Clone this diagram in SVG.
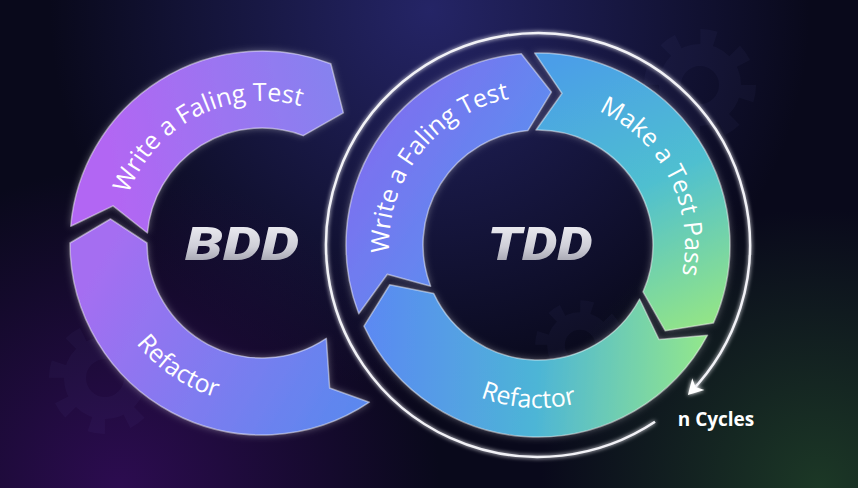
<svg xmlns="http://www.w3.org/2000/svg" width="858" height="488" viewBox="0 0 858 488">
<style>
.seg{stroke:rgba(255,255,255,0.45);stroke-width:1.5;stroke-linejoin:round;filter:url(#glow)}
.lbl{font-family:"Open Sans","Noto Sans",sans-serif;font-weight:500;font-size:25px;fill:#ffffff}
.big{font-family:Roboto,"Liberation Sans",sans-serif;font-weight:900;font-style:italic;font-size:46px;fill:url(#silver)}
.gear{color:#9aa0ff;opacity:0.035}
</style>
<defs>
<radialGradient id="bgBlue" cx="430" cy="10" r="380" gradientUnits="userSpaceOnUse">
<stop offset="0" stop-color="#26266a" stop-opacity="0.95"/>
<stop offset="1" stop-color="#26266a" stop-opacity="0"/>
</radialGradient>
<radialGradient id="bgPurple" cx="120" cy="488" r="320" gradientUnits="userSpaceOnUse">
<stop offset="0" stop-color="#2c0c50" stop-opacity="1"/>
<stop offset="1" stop-color="#2c0c50" stop-opacity="0"/>
</radialGradient>
<radialGradient id="bgGreen" cx="820" cy="488" r="280" gradientUnits="userSpaceOnUse">
<stop offset="0" stop-color="#1c3826" stop-opacity="1"/>
<stop offset="1" stop-color="#1c3826" stop-opacity="0"/>
</radialGradient>
<linearGradient id="gBddW" x1="110" y1="150" x2="340" y2="110" gradientUnits="userSpaceOnUse">
<stop offset="0" stop-color="#b266f3"/><stop offset="1" stop-color="#8682ef"/>
</linearGradient>
<linearGradient id="gBddR" x1="100" y1="260" x2="360" y2="410" gradientUnits="userSpaceOnUse">
<stop offset="0" stop-color="#a56ef1"/><stop offset="1" stop-color="#5a88ee"/>
</linearGradient>
<linearGradient id="gTddW" x1="380" y1="120" x2="540" y2="220" gradientUnits="userSpaceOnUse">
<stop offset="0" stop-color="#7c70f0"/><stop offset="1" stop-color="#5694ef"/>
</linearGradient>
<linearGradient id="gTddM" x1="560" y1="60" x2="690" y2="330" gradientUnits="userSpaceOnUse">
<stop offset="0" stop-color="#4b9ee8"/><stop offset="0.5" stop-color="#4fbfd0"/><stop offset="1" stop-color="#92e488"/>
</linearGradient>
<linearGradient id="gTddR" x1="370" y1="320" x2="710" y2="340" gradientUnits="userSpaceOnUse">
<stop offset="0" stop-color="#5b8af2"/><stop offset="0.5" stop-color="#4db5d6"/><stop offset="1" stop-color="#94e88a"/>
</linearGradient>
<linearGradient id="silver" x1="0" y1="0" x2="0" y2="1">
<stop offset="0" stop-color="#f6f6fa"/><stop offset="0.55" stop-color="#cfcfd8"/><stop offset="1" stop-color="#8c8c9a"/>
</linearGradient>
<filter id="glow" x="-20%" y="-20%" width="140%" height="140%">
<feGaussianBlur in="SourceAlpha" stdDeviation="3.5" result="b"/>
<feFlood flood-color="#ffffff" flood-opacity="0.35"/>
<feComposite in2="b" operator="in" result="g"/>
<feMerge><feMergeNode in="g"/><feMergeNode in="SourceGraphic"/></feMerge>
</filter>
<filter id="lineGlow" x="-10%" y="-10%" width="120%" height="120%">
<feGaussianBlur in="SourceGraphic" stdDeviation="2" result="b"/>
<feMerge><feMergeNode in="b"/><feMergeNode in="SourceGraphic"/></feMerge>
</filter>
<marker id="arr" markerUnits="userSpaceOnUse" viewBox="-17 -10 20 20" markerWidth="20" markerHeight="20" refX="-3" refY="0" orient="auto">
<path d="M0,0 L-15,-8.5 L-11,0 L-15,8.5 Z" fill="#ffffff"/>
</marker>
<g id="gearShape">
<circle r="48" fill="none" stroke="currentColor" stroke-width="16" stroke-dasharray="15 22.7"/>
<circle r="30" fill="none" stroke="currentColor" stroke-width="22"/>
</g>
<path id="pBddW" d="M134.59,307.92 A143,143 0 0 1 389.41,178.08"/>
<path id="pBddR" d="M127.70,152.41 A162,162 0 0 0 396.30,333.59"/>
<path id="pTddW" d="M446.69,364.00 A150,150 0 0 1 629.31,126.00"/>
<path id="pTddM" d="M471.26,114.02 A147,147 0 0 1 604.74,375.98"/>
<path id="pTddR" d="M375.30,235.05 A163,163 0 0 0 700.70,254.95"/>
</defs>

<g id="background">
<rect width="858" height="488" fill="#09091b"/>
<rect width="858" height="488" fill="url(#bgBlue)"/>
<rect width="858" height="488" fill="url(#bgPurple)"/>
<rect width="858" height="488" fill="url(#bgGreen)"/>
<use href="#gearShape" class="gear" transform="translate(105,378)"/>
<use href="#gearShape" class="gear" transform="translate(700,85)"/>
<use href="#gearShape" class="gear" transform="translate(580,345) scale(0.8)"/>
</g>

<g id="bdd-refactor">
<path class="seg" fill="url(#gBddR)" d="M369.36,402.18 A192,192 0 0 1 70,243 L110.39,218.99 L147,243 A115,115 0 0 0 326.31,338.34 L329.62,388.01 Z"/>
<text class="lbl"><textPath href="#pBddR" startOffset="50%" text-anchor="middle">Refactor</textPath></text>
</g>
<g id="bdd-write">
<path class="seg" fill="url(#gBddW)" d="M70.73,226.27 A192,192 0 0 1 330.81,63.75 L343.34,112.82 L303.21,135.64 A115,115 0 0 0 147.44,232.98 L113.06,205.87 Z"/>
<text class="lbl"><textPath href="#pBddW" startOffset="50%" text-anchor="middle">Write a Faling Test</textPath></text>
</g>
<g id="bdd-title">
<text class="big" x="242" y="260" text-anchor="middle" textLength="114" lengthAdjust="spacingAndGlyphs">BDD</text>
</g>

<g id="tdd-write">
<path class="seg" fill="url(#gTddW)" d="M358.75,313.81 A192,192 0 0 1 521.27,53.73 L551.38,92.08 L527.98,130.44 A115,115 0 0 0 430.64,286.21 L387.32,274.29 Z"/>
<text class="lbl"><textPath href="#pTddW" startOffset="191.5" text-anchor="end">Write</textPath></text>
<text class="lbl"><textPath href="#pTddW" startOffset="198" text-anchor="start">a Faling Test</textPath></text>
</g>
<g id="tdd-make">
<path class="seg" fill="url(#gTddM)" d="M534.65,53.03 A192,192 0 0 1 713.40,323.09 L665.26,330.84 L643.06,291.78 A115,115 0 0 0 535.99,130.02 L562.01,93.39 Z"/>
<text class="lbl"><textPath href="#pTddM" startOffset="50%" text-anchor="middle">Make a Test Pass</textPath></text>
</g>
<g id="tdd-refactor">
<path class="seg" fill="url(#gTddR)" d="M707.53,335.14 A192,192 0 0 1 363.99,326.14 L389.73,284.73 L433.77,293.60 A115,115 0 0 0 639.54,298.99 L658.96,339.50 Z"/>
<text class="lbl"><textPath href="#pTddR" startOffset="50%" text-anchor="middle">Refactor</textPath></text>
</g>
<g id="tdd-title">
<text class="big" x="540" y="260" text-anchor="middle" textLength="105" lengthAdjust="spacingAndGlyphs">TDD</text>
</g>

<g id="connectors">
<path d="M655.01,421.78 A212,212 0 1 1 689.98,392.80" fill="none" stroke="#f2f2f7" stroke-width="2.5" filter="url(#lineGlow)" marker-end="url(#arr)"/>
</g>

<g id="n-cycles">
<text x="716" y="426" text-anchor="middle" font-family="'Open Sans','Noto Sans',sans-serif" font-weight="700" font-size="19" fill="#ffffff">n Cycles</text>
</g>
</svg>
